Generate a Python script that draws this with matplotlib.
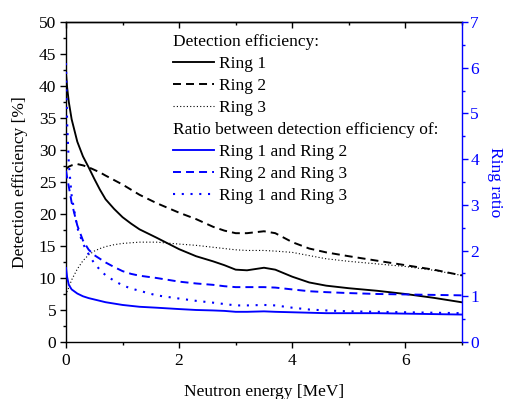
import matplotlib
matplotlib.use("Agg")
import matplotlib.pyplot as plt
from matplotlib.ticker import MultipleLocator

plt.rcParams['font.family'] = ['Liberation Serif', 'DejaVu Serif']
plt.rcParams['font.size'] = 12.5

# Neutron energy grid [MeV]
energy = [0.0, 0.02, 0.05, 0.1, 0.2, 0.3, 0.4, 0.5, 0.6, 0.7, 0.85, 1.0, 1.15, 1.3, 1.6,
          2.0, 2.3, 2.6, 2.8, 3.0, 3.2, 3.5, 3.7, 4.0, 4.3, 4.6, 5.0, 5.5, 6.0, 6.5, 7.0]

# Detection efficiency [%]
eff_ring1 = [42.0, 39.8, 37.5, 34.8, 31.3, 29.0, 27.3, 25.5, 23.8, 22.3, 20.8, 19.5, 18.5, 17.6,
             16.3, 14.5, 13.4, 12.6, 12.0, 11.3, 11.2, 11.6, 11.3, 10.2, 9.3, 8.8, 8.4, 8.0,
             7.5, 6.9, 6.2]
eff_ring2 = [27.0, 27.2, 27.4, 27.6, 27.8, 27.6, 27.3, 26.9, 26.5, 26.0, 25.3, 24.6, 23.8, 23.0,
             21.7, 20.2, 19.2, 18.0, 17.4, 17.0, 17.0, 17.3, 17.0, 15.6, 14.6, 14.0, 13.4, 12.7,
             12.0, 11.3, 10.4]
eff_ring3 = [7.3, 7.9, 8.5, 9.7, 11.4, 12.7, 13.6, 14.2, 14.6, 14.9, 15.2, 15.4, 15.5, 15.6,
             15.6, 15.3, 15.1, 14.8, 14.6, 14.4, 14.3, 14.3, 14.2, 14.0, 13.5, 13.0, 12.6, 12.2,
             11.8, 11.2, 10.4]

# Ratios between ring efficiencies
ratio_12 = [1.62, 1.42, 1.25, 1.15, 1.06, 1.00, 0.96, 0.93, 0.90, 0.87, 0.84, 0.81, 0.79, 0.77,
            0.75, 0.72, 0.70, 0.69, 0.68, 0.66, 0.66, 0.67, 0.66, 0.65, 0.64, 0.63, 0.63, 0.63,
            0.62, 0.61, 0.60]
ratio_23 = [3.75, 3.60, 3.40, 3.05, 2.55, 2.22, 2.02, 1.90, 1.82, 1.74, 1.64, 1.55, 1.49, 1.45,
            1.40, 1.32, 1.28, 1.25, 1.22, 1.20, 1.20, 1.20, 1.19, 1.15, 1.11, 1.09, 1.07, 1.05,
            1.04, 1.03, 1.02]
ratio_13 = [6.10, 4.80, 3.90, 3.20, 2.50, 2.15, 1.92, 1.72, 1.58, 1.46, 1.34, 1.24, 1.17, 1.12,
            1.02, 0.95, 0.90, 0.86, 0.83, 0.80, 0.80, 0.81, 0.80, 0.75, 0.71, 0.69, 0.67, 0.66,
            0.65, 0.64, 0.63]

BLUE = '#0000ff'
FS = 12.5

fig = plt.figure(figsize=(5.06, 3.99), dpi=100)
ax = fig.add_axes([0.1304, 0.1429, 0.7826, 0.8020])
ax2 = ax.twinx()

dash = (0, (4.1, 2.6))
l1, = ax.plot(energy, eff_ring1, color='black', lw=1.35, ls='-')
l2, = ax.plot(energy, eff_ring2, color='black', lw=1.4, ls=dash)
l3, = ax.plot(energy, eff_ring3, color='black', lw=0.8, ls=(0, (1, 2)))

r1, = ax2.plot(energy, ratio_12, color=BLUE, lw=1.35, ls='-')
r2, = ax2.plot(energy, ratio_23, color=BLUE, lw=1.4, ls=dash)
r3, = ax2.plot(energy, ratio_13, color=BLUE, lw=1.5, ls=(0, (1, 3.2)))

ax.set_xlim(0, 7)
ax.set_ylim(0, 50)
ax2.set_ylim(0, 7)

ax.xaxis.set_major_locator(MultipleLocator(2))
ax.xaxis.set_minor_locator(MultipleLocator(1))
ax.yaxis.set_major_locator(MultipleLocator(5))
ax.yaxis.set_minor_locator(MultipleLocator(2.5))
ax2.yaxis.set_major_locator(MultipleLocator(1))
ax2.yaxis.set_minor_locator(MultipleLocator(0.5))

ax.tick_params(which='major', direction='out', length=4, width=1.0, labelsize=FS)
ax.tick_params(which='minor', direction='out', length=2.3, width=1.0)
ax.tick_params(axis='y', pad=3)
ax.tick_params(axis='x', pad=4)
ax2.tick_params(which='major', direction='out', length=4, width=1.0, colors=BLUE,
                labelsize=FS, pad=2)
ax2.tick_params(which='minor', direction='out', length=2.3, width=1.0, colors=BLUE)

# inward mirror ticks along the top edge
top = ax.secondary_xaxis('top')
top.xaxis.set_major_locator(MultipleLocator(2))
top.xaxis.set_minor_locator(MultipleLocator(1))
top.tick_params(which='major', direction='in', length=4, width=1.0, labeltop=False)
top.tick_params(which='minor', direction='in', length=2.3, width=1.0)

for s in ['left', 'bottom', 'top']:
    ax.spines[s].set_linewidth(1.0)
ax.spines['right'].set_visible(False)
ax2.spines['right'].set_color(BLUE)
ax2.spines['right'].set_linewidth(1.0)
for s in ['left', 'bottom', 'top']:
    ax2.spines[s].set_visible(False)
top.spines['top'].set_linewidth(1.0)

ax.set_xlabel('Neutron energy [MeV]', fontsize=FS, labelpad=11)
ax.set_ylabel('Detection efficiency [%]', fontsize=FS, labelpad=8)
ax2.set_ylabel('Ring ratio', fontsize=FS, color=BLUE, rotation=-90, va='bottom', labelpad=6)

leg_kw = dict(loc='upper left', frameon=False, borderpad=0, borderaxespad=0,
              handlelength=2.36, handletextpad=0.3, labelspacing=0.35,
              fontsize=FS, title_fontsize=FS, alignment='left')
leg1 = ax2.legend([l1, l2, l3], ['Ring 1', 'Ring 2', 'Ring 3'],
                  title='Detection efficiency:', bbox_to_anchor=(0.270, 0.964), **leg_kw)
ax2.add_artist(leg1)
ax2.legend([r1, r2, r3], ['Ring 1 and Ring 2', 'Ring 2 and Ring 3', 'Ring 1 and Ring 3'],
           title='Ratio between detection efficiency of:',
           bbox_to_anchor=(0.270, 0.689), **leg_kw)

fig.savefig('out.png', dpi=100)
